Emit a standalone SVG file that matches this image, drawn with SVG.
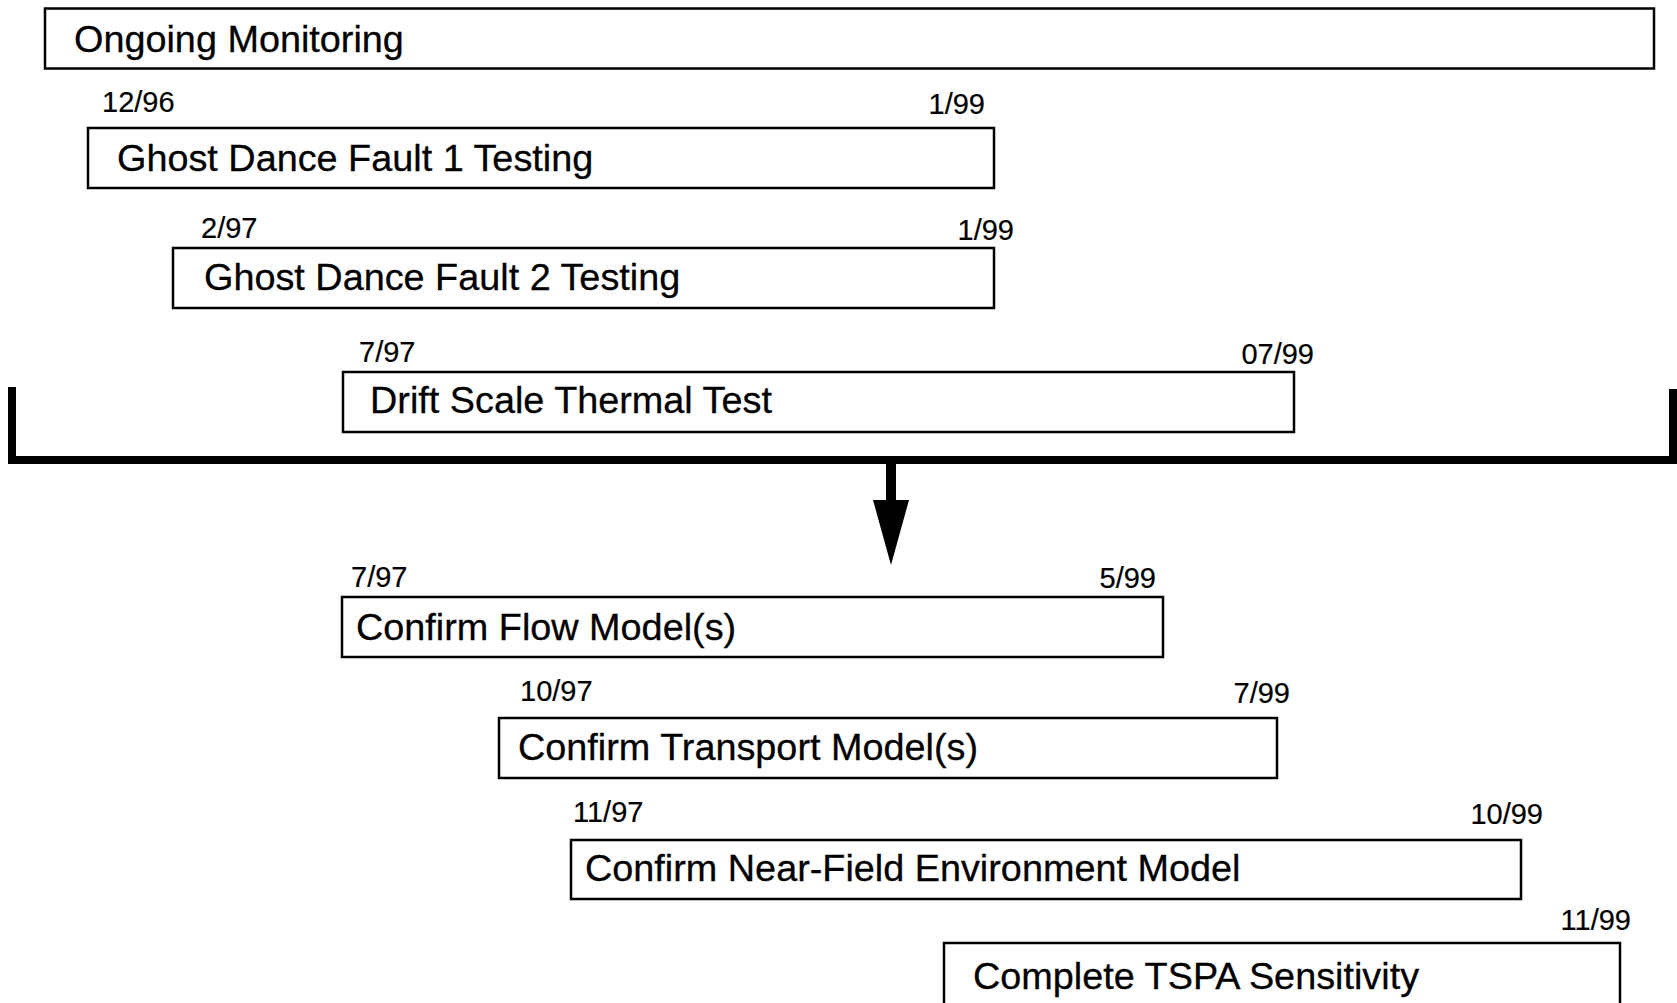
<svg xmlns="http://www.w3.org/2000/svg" width="1677" height="1003" viewBox="0 0 1677 1003">
<style>
.box{fill:#fff;stroke:#000;stroke-width:2.5}
.lbl{font-family:"Liberation Sans",Arial,sans-serif;font-size:37.8px;fill:#000;stroke:#000;stroke-width:0.3}
.dt{font-family:"Liberation Sans",Arial,sans-serif;font-size:29px;fill:#000;stroke:#000;stroke-width:0.2}
.end{text-anchor:end}
.br{fill:none;stroke:#000;stroke-width:8;stroke-linejoin:miter;stroke-linecap:butt}
</style>
<rect width="1677" height="1003" fill="#fff"/>
<g id="ongoing">
<rect class="box" x="45" y="8.5" width="1609" height="60"/>
<text class="lbl" x="74" y="51.5">Ongoing Monitoring</text>
</g>
<g id="gdf1">
<rect class="box" x="88" y="128" width="906" height="60"/>
<text class="lbl" x="117" y="171">Ghost Dance Fault 1 Testing</text>
<text class="dt" x="102" y="112">12/96</text>
<text class="dt end" x="985" y="113.5">1/99</text>
</g>
<g id="gdf2">
<rect class="box" x="173" y="248" width="821" height="60"/>
<text class="lbl" x="204" y="290">Ghost Dance Fault 2 Testing</text>
<text class="dt" x="201" y="237.5">2/97</text>
<text class="dt end" x="1014" y="239.5">1/99</text>
</g>
<g id="drift">
<rect class="box" x="343" y="372" width="951" height="60"/>
<text class="lbl" x="370" y="413">Drift Scale Thermal Test</text>
<text class="dt" x="359" y="361.5">7/97</text>
<text class="dt end" x="1314" y="363.5">07/99</text>
</g>
<g id="connectors">
<path class="br" d="M12,387 V460 H1677"/>
<path class="br" d="M1673,389 V462"/>
<rect x="886" y="462" width="10" height="40" fill="#000"/>
<polygon points="873,500 909,500 891,565" fill="#000"/>
</g>
<g id="flow">
<rect class="box" x="342" y="597" width="821" height="60"/>
<text class="lbl" x="356" y="640">Confirm Flow Model(s)</text>
<text class="dt" x="351" y="586.5">7/97</text>
<text class="dt end" x="1156" y="588">5/99</text>
</g>
<g id="transport">
<rect class="box" x="499" y="718" width="778" height="60"/>
<text class="lbl" x="518" y="759.5">Confirm Transport Model(s)</text>
<text class="dt" x="520" y="700.5">10/97</text>
<text class="dt end" x="1290" y="702.5">7/99</text>
</g>
<g id="nearfield">
<rect class="box" x="571" y="840" width="950" height="59"/>
<text class="lbl" x="585" y="881">Confirm Near-Field Environment Model</text>
<text class="dt" x="573" y="821.5">11/97</text>
<text class="dt end" x="1543" y="823.5">10/99</text>
</g>
<g id="tspa">
<rect class="box" x="944" y="943" width="676" height="70"/>
<text class="lbl" x="973" y="989">Complete TSPA Sensitivity</text>
<text class="dt end" x="1631" y="929.5">11/99</text>
</g>
</svg>
